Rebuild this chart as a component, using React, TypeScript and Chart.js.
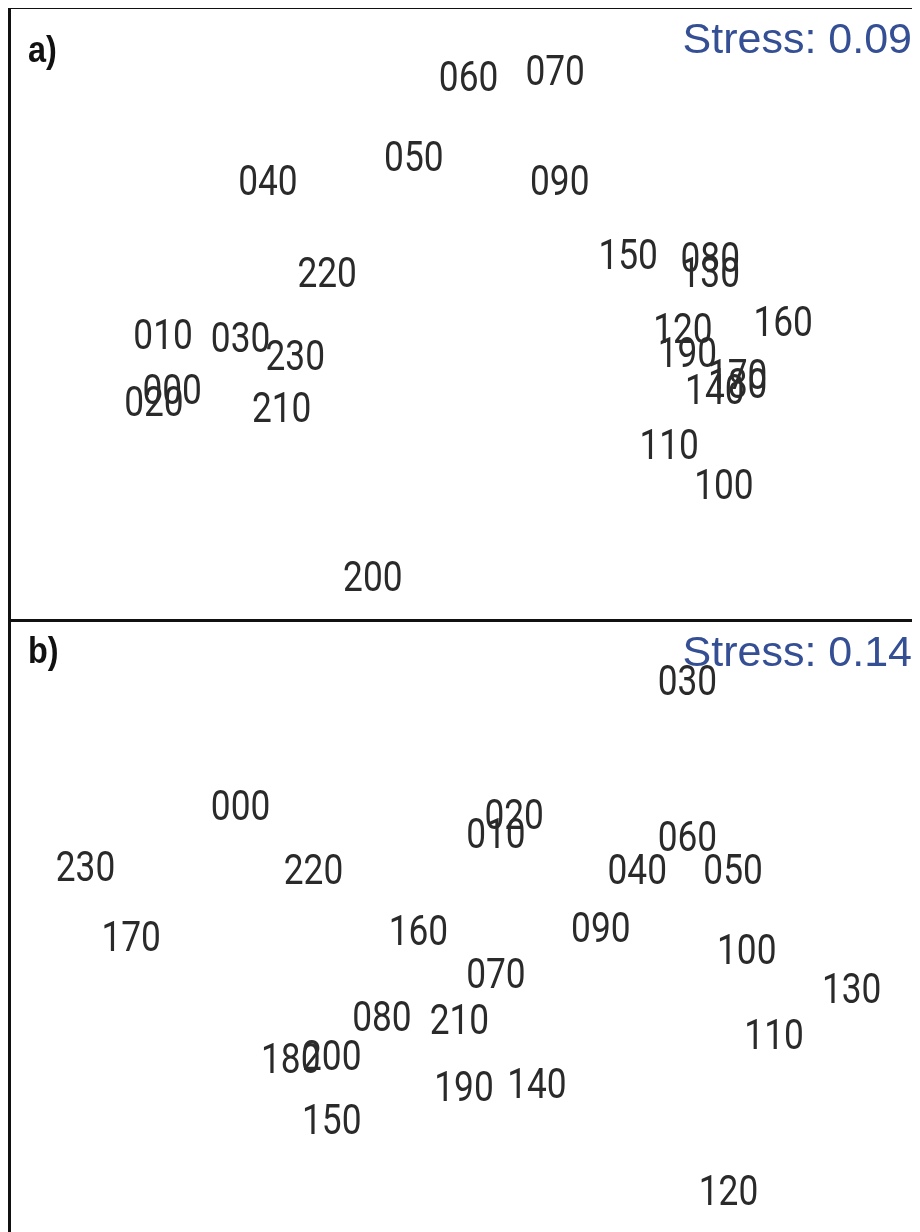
import React, { useEffect, useRef } from "react";
import { Chart, registerables } from "chart.js";

Chart.register(...registerables);

// Panel a) NMDS coordinates (estimated)
const labelsA = ["060","070","050","040","090","150","080","130","220","010","030","230","120","160","190","170","180","140","000","020","210","110","100","200"];
const xA = [0.01,0.20,-0.11,-0.43,0.21,0.36,0.54,0.54,-0.30,-0.66,-0.49,-0.37,0.48,0.70,0.49,0.60,0.60,0.55,-0.64,-0.68,-0.40,0.45,0.57,-0.20];
const yA = [0.78,0.80,0.52,0.44,0.44,0.20,0.19,0.14,0.14,-0.06,-0.07,-0.13,-0.04,-0.02,-0.12,-0.19,-0.22,-0.24,-0.24,-0.28,-0.30,-0.42,-0.55,-0.85];
const stressA = "Stress: 0.09";

// Panel b) NMDS coordinates (estimated)
const labelsB = ["030","000","020","010","060","230","220","040","050","170","160","090","100","070","130","080","210","110","180","200","190","140","150","120"];
const xB = [0.49,-0.49,0.11,0.07,0.49,-0.83,-0.33,0.38,0.59,-0.73,-0.10,0.30,0.62,0.07,0.85,-0.18,-0.01,0.68,-0.38,-0.29,0.00,0.16,-0.29,0.58];
const yB = [0.81,0.40,0.37,0.31,0.30,0.20,0.19,0.19,0.19,-0.03,-0.01,0.00,-0.07,-0.15,-0.20,-0.29,-0.30,-0.35,-0.43,-0.42,-0.52,-0.51,-0.63,-0.86];
const stressB = "Stress: 0.14";

const panelTitles = ["a)", "b)"];

type PanelProps = {
  labels: string[];
  xs: number[];
  ys: number[];
  stress: string;
  title: string;
  height: number;
  padTop: number;
  titleBaseline: number;
  stressBaseline: number;
  topLine: boolean;
  bottomLine: boolean;
};

function narrowText(ctx: CanvasRenderingContext2D, text: string, x: number, y: number, sx: number) {
  ctx.save();
  ctx.translate(x, y);
  ctx.scale(sx, 1);
  ctx.fillText(text, 0, 0);
  ctx.restore();
}

function Panel(p: PanelProps) {
  const ref = useRef<HTMLCanvasElement | null>(null);
  useEffect(() => {
    if (!ref.current) return;
    const textPlugin = {
      id: "nmdsText",
      afterDraw(chart: any) {
        const ctx = chart.ctx as CanvasRenderingContext2D;
        const xs = chart.scales.x;
        const ys = chart.scales.y;
        const W = chart.width;
        const H = chart.height;
        ctx.save();
        // frame lines
        ctx.fillStyle = "#111111";
        ctx.fillRect(0, 0, 3, H);
        if (p.topLine) ctx.fillRect(0, 0, W, 3);
        if (p.bottomLine) ctx.fillRect(0, H - 3, W, 3);
        // point labels
        const fs = 43;
        ctx.font = `400 ${fs}px Roboto, 'Liberation Sans', sans-serif`;
        ctx.fillStyle = "#2a2a2a";
        ctx.textAlign = "center";
        ctx.textBaseline = "alphabetic";
        p.labels.forEach((lab, i) => {
          const px = xs.getPixelForValue(p.xs[i]);
          const py = ys.getPixelForValue(p.ys[i]);
          narrowText(ctx, lab, px, py + fs * 0.355, 0.82);
        });
        // stress
        ctx.font = "43px 'Liberation Sans', Arial, sans-serif";
        ctx.fillStyle = "#354f95";
        ctx.textAlign = "right";
        ctx.fillText(p.stress, W - 8, p.stressBaseline);
        // panel title
        ctx.font = "bold 36px 'Liberation Sans', Arial, sans-serif";
        ctx.fillStyle = "#111111";
        ctx.textAlign = "left";
        narrowText(ctx, p.title, 20, p.titleBaseline, 0.9);
        ctx.restore();
      },
    };
    const chart = new Chart(ref.current, {
      type: "scatter",
      data: {
        datasets: [
          {
            data: p.xs.map((x, i) => ({ x, y: p.ys[i] })),
            pointRadius: 0,
            pointHoverRadius: 0,
          },
        ],
      },
      options: {
        animation: false,
        responsive: true,
        maintainAspectRatio: false,
        events: [],
        layout: { padding: { top: p.padTop, left: 0, right: 0, bottom: 0 } },
        plugins: { legend: { display: false }, tooltip: { enabled: false } },
        scales: {
          x: { type: "linear", min: -1, max: 1, display: false },
          y: { type: "linear", min: -1, max: 1, display: false },
        },
      },
      plugins: [textPlugin],
    });
    return () => chart.destroy();
  }, []);
  return (
    <div style={{ position: "relative", width: 912, height: p.height }}>
      <canvas ref={ref} />
    </div>
  );
}

export default function App() {
  return (
    <div style={{ marginTop: -2, width: 912, background: "#ffffff" }}>
      <Panel
        labels={labelsA}
        xs={xA}
        ys={yA}
        stress={stressA}
        title={panelTitles[0]}
        height={616}
        padTop={2}
        titleBaseline={56}
        stressBaseline={47}
        topLine={true}
        bottomLine={true}
      />
      <Panel
        labels={labelsB}
        xs={xB}
        ys={yB}
        stress={stressB}
        title={panelTitles[1]}
        height={610}
        padTop={0}
        titleBaseline={41}
        stressBaseline={44}
        topLine={false}
        bottomLine={false}
      />
    </div>
  );
}
